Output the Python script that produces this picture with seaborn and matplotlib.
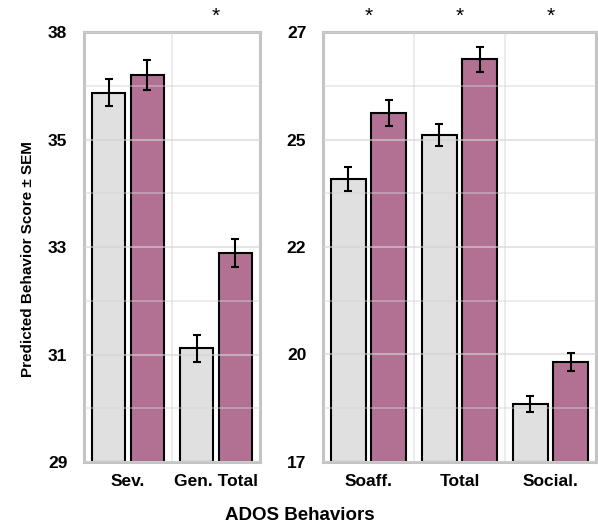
import numpy as np
import pandas as pd
import matplotlib.pyplot as plt
import seaborn as sns

sns.set_style("white")
plt.rcParams["font.family"] = ["Liberation Sans", "DejaVu Sans"]
plt.rcParams["font.weight"] = "bold"
plt.rcParams["text.color"] = "black"
plt.rcParams["xtick.color"] = "black"
plt.rcParams["ytick.color"] = "black"

# === Data ===
groups = ["Group 1", "Group 2"]

left_cats = ["Sev.", "Gen. Total"]
left_grey = [36.39, 31.28]
left_pink = [36.75, 33.18]
left_grey_sem = [0.27, 0.27]
left_pink_sem = [0.30, 0.28]
left_stars = [False, True]
left_ylim = (29.0, 37.6)

right_cats = ["Soaff.", "Total", "Social."]
right_grey = [23.78, 24.80, 18.55]
right_pink = [25.31, 26.57, 19.52]
right_grey_sem = [0.27, 0.26, 0.19]
right_pink_sem = [0.30, 0.29, 0.21]
right_stars = [True, True, True]
right_ylim = (17.2, 27.2)

GREY = "#e0e0e0"
PINK = "#b27193"
FRAME = "#c4c4c4"
GRID = "#d4d4d4"


def draw_panel(ax, cats, grey, pink, grey_sem, pink_sem, stars, ylim):
    df = pd.DataFrame({
        "behavior": cats * 2,
        "group": [groups[0]] * len(cats) + [groups[1]] * len(cats),
        "score": grey + pink,
    })
    sems = [grey_sem, pink_sem]

    sns.barplot(data=df, x="behavior", y="score", hue="group",
                order=cats, hue_order=groups, palette=[GREY, PINK],
                saturation=1, errorbar=None, width=0.88, gap=0.13,
                edgecolor="black", linewidth=1.5, legend=False, ax=ax)

    # bars start at the bottom of the visible range
    lo, hi = ylim
    for container, sem in zip(ax.containers, sems):
        xs, ys = [], []
        for bar in container:
            h = bar.get_height()
            bar.set_y(lo)
            bar.set_height(h - lo)
            xs.append(bar.get_x() + bar.get_width() / 2)
            ys.append(h)
        ax.errorbar(xs, ys, yerr=sem, fmt="none", ecolor="black",
                    elinewidth=1.5, capsize=3, capthick=1.5, zorder=5)

    ax.set_ylim(lo, hi)
    major = np.linspace(lo, hi, 5)
    ax.set_yticks(major)
    ax.set_yticklabels([f"{v:.0f}" for v in major])
    ax.set_yticks((major[:-1] + major[1:]) / 2, minor=True)
    ax.set_xlim(-0.5, len(cats) - 0.5)
    ax.set_xticks(np.arange(len(cats) - 1) + 0.5, minor=True)

    ax.grid(True, which="major", axis="y", color=GRID, lw=1.5, alpha=0.6)
    ax.grid(True, which="minor", axis="both", color=GRID, lw=1.2, alpha=0.5)
    ax.set_axisbelow(False)

    ax.tick_params(axis="both", which="both", length=0, labelsize=12.5,
                   labelcolor="black")
    ax.tick_params(axis="y", pad=12)
    ax.tick_params(axis="x", pad=9)
    for s in ax.spines.values():
        s.set_color(FRAME)
        s.set_linewidth(2.2)
        s.set_visible(True)
    ax.set_xlabel("")
    ax.set_ylabel("")

    for i, star in enumerate(stars):
        if star:
            ax.text(i, 1.036, "*", transform=ax.get_xaxis_transform(),
                    ha="center", va="center", fontsize=15,
                    fontweight="normal", color="black")


fig = plt.figure(figsize=(5.98, 5.29), dpi=100)
W, H = 598, 529
ax_l = fig.add_axes([84 / W, (H - 462) / H, 176 / W, 430 / H])
ax_r = fig.add_axes([323 / W, (H - 462) / H, 273 / W, 430 / H])

draw_panel(ax_l, left_cats, left_grey, left_pink, left_grey_sem,
           left_pink_sem, left_stars, left_ylim)
draw_panel(ax_r, right_cats, right_grey, right_pink, right_grey_sem,
           right_pink_sem, right_stars, right_ylim)

fig.text(28 / W, 1 - 259 / H, "Predicted Behavior Score \u00b1 SEM",
         rotation=90, ha="center", va="center", fontsize=11,
         fontweight="bold", color="black")
fig.text(300 / W, 1 - 515 / H, "ADOS Behaviors", ha="center",
         va="center", fontsize=13.5, fontweight="bold", color="black")

fig.savefig("out.png", dpi=100)
